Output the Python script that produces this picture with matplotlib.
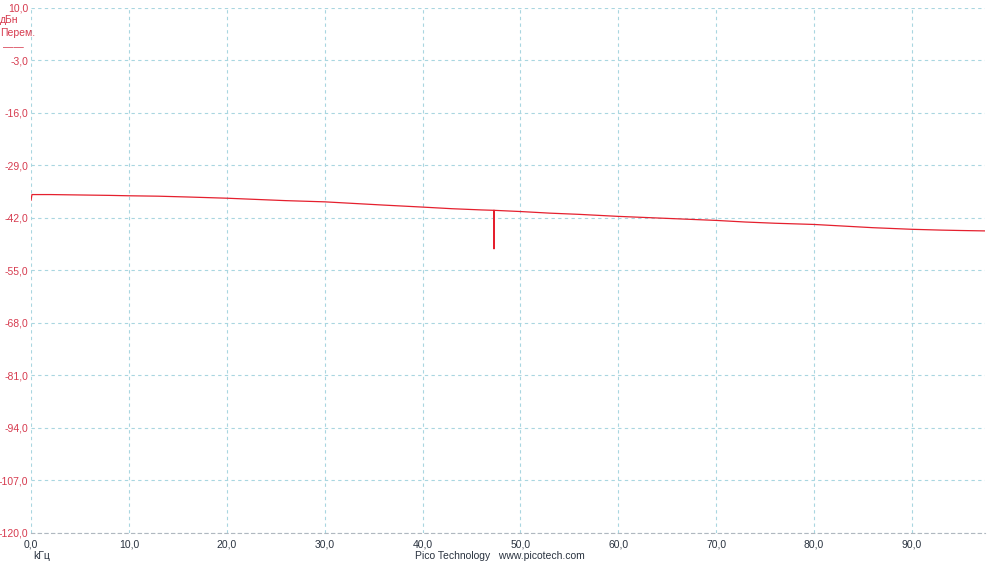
import matplotlib
matplotlib.use("Agg")
import matplotlib.pyplot as plt

plt.rcParams["font.family"] = ["Liberation Sans", "DejaVu Sans"]

# data (kHz, dB)
freq_khz = [0.0, 0.1, 2.0, 5.0, 8.0, 10.0, 13.0, 16.0, 20.0, 23.0, 26.0, 30.0, 33.0, 36.0,
            40.0, 43.0, 46.0, 47.3, 47.3, 47.3, 50.0, 53.0, 56.0, 60.0, 63.0, 66.0, 70.0,
            73.0, 76.0, 80.0, 83.0, 86.0, 90.0, 93.0, 95.0, 97.5]
level_db = [-37.6, -36.2, -36.2, -36.3, -36.4, -36.5, -36.6, -36.8, -37.1, -37.4, -37.7, -38.0, -38.4, -38.8,
            -39.3, -39.7, -40.0, -40.1, -49.6, -40.1, -40.4, -40.8, -41.1, -41.6, -41.9, -42.2, -42.6,
            -43.0, -43.3, -43.6, -44.0, -44.4, -44.8, -45.0, -45.1, -45.2]
y_ticks = [10.0, -3.0, -16.0, -29.0, -42.0, -55.0, -68.0, -81.0, -94.0, -107.0, -120.0]
x_ticks = [0.0, 10.0, 20.0, 30.0, 40.0, 50.0, 60.0, 70.0, 80.0, 90.0]

RED = "#e5202e"
LBL_RED = "#d63a4e"
GRID = "#a9d6e0"
TXT = "#2a3340"
FS = 7.5

fig = plt.figure(figsize=(10, 5.63), dpi=100)
ax = fig.add_axes([0.031, 0.0533, 0.954, 0.9325])
ax.plot(freq_khz, level_db, color=RED, lw=0.9)
ax.set_xlim(0, 97.46)
ax.set_ylim(-120, 10)
ax.set_yticks(y_ticks)
ax.set_xticks(x_ticks)
ax.set_yticklabels([f"{v:.1f}".replace(".", ",") for v in y_ticks], color=LBL_RED, fontsize=FS)
ax.set_xticklabels([f"{v:.1f}".replace(".", ",") for v in x_ticks], color=TXT, fontsize=FS)
ax.tick_params(axis="y", length=0, pad=2)
ax.tick_params(axis="x", length=0, pad=5)
ax.grid(True, color=GRID, linestyle=(0, (3, 3)), lw=0.8)
for s in ["top", "right", "left"]:
    ax.spines[s].set_visible(False)
ax.spines["bottom"].set_color("#b0b8c0")
ax.spines["bottom"].set_linestyle((0, (3, 3)))
ax.spines["bottom"].set_linewidth(0.8)

fig.text(0.0, 1 - 20 / 563, "дБн", color=LBL_RED, fontsize=FS, ha="left", va="center")
fig.text(0.0, 1 - 33 / 563, "Перем.", color=LBL_RED, fontsize=FS, ha="left", va="center")
fig.text(0.0235, 1 - 47 / 563, "——", color=LBL_RED, fontsize=FS, ha="right", va="center")
fig.text(0.033, 1 - 556 / 563, "kГц", color=TXT, fontsize=FS, ha="left", va="center")
fig.text(0.5, 1 - 556 / 563, "Pico Technology   www.picotech.com", color=TXT, fontsize=FS,
         ha="center", va="center")

fig.savefig("out.png", dpi=100)
